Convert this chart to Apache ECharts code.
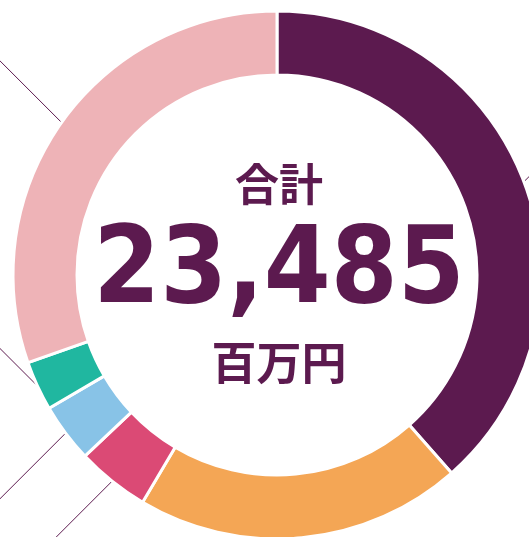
<!DOCTYPE html>
<html>
<head>
<meta charset="utf-8">
<script src="https://cdn.jsdelivr.net/npm/echarts@6/dist/echarts.min.js"></script>
<style>
  html, body { margin: 0; padding: 0; background: #ffffff; }
  #chart { width: 529px; height: 537px; }
</style>
</head>
<body>
<div id="chart"></div>
<script>
// 内訳（百万円）: 上から時計回り
const categories = ["区分1", "区分2", "区分3", "区分4", "区分5", "区分6"];
const values = [9042, 4697, 1050, 848, 711, 7137];
const colors = ["#5c1a4f", "#f4a655", "#db4a75", "#88c3e7", "#20b7a0", "#eeb3b7"];
const totalLabel = "合計";
const unitLabel = "百万円";
// 引き出し線の向き（x, y）
const lineDir = [[1, -1], [1, 1], [-1, 1], [-1, 1], [-1, -1], [-1, -1]];

const total = values.reduce((a, b) => a + b, 0);
const textColor = "#5c1a4f";

let myChart = echarts.init(document.getElementById("chart"));

function centerText(text, y, font) {
    return {
        type: "text",
        x: 279,
        y: y,
        z: 10,
        style: {
            text: text,
            align: "center",
            verticalAlign: "middle",
            font: font,
            fill: textColor
        }
    };
}

myChart.setOption({
    animation: false,
    graphic: [
        centerText(totalLabel, 184, "bold 44px 'Noto Sans CJK JP'"),
        centerText(total.toLocaleString("en-US"), 274, "bold 107px 'DejaVu Sans Condensed'"),
        centerText(unitLabel, 363, "bold 45px 'Noto Sans CJK JP'")
    ],
    series: [
        {
            type: "pie",
            center: [277, 275],
            radius: [200, 264],
            startAngle: 90,
            clockwise: true,
            avoidLabelOverlap: false,
            color: colors,
            itemStyle: {
                borderColor: "#ffffff",
                borderWidth: 3
            },
            label: {
                show: true,
                formatter: " ",
                color: "rgba(0,0,0,0)"
            },
            labelLine: {
                show: true,
                length: 60,
                length2: 0,
                lineStyle: { color: "#5c1a4f", width: 1 }
            },
            labelLayout: function (params) {
                const pts = params.labelLinePoints;
                if (!pts) return {};
                const d = lineDir[params.dataIndex];
                const p0 = pts[0];
                return {
                    labelLinePoints: [
                        [p0[0], p0[1]],
                        [p0[0] + d[0] * 90, p0[1] + d[1] * 90]
                    ]
                };
            },
            emphasis: { disabled: true },
            data: categories.map((c, i) => ({ name: c, value: values[i] }))
        }
    ]
});
</script>
</body>
</html>
